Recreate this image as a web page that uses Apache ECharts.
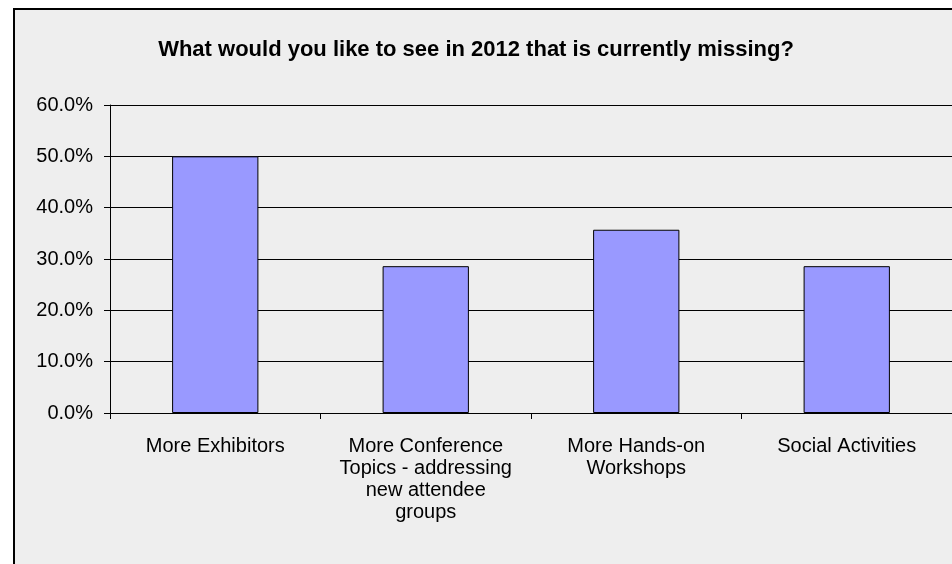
<!DOCTYPE html>
<html><head><meta charset="utf-8">
<script src="https://cdn.jsdelivr.net/npm/echarts@6/dist/echarts.min.js"></script>
<style>html,body{margin:0;padding:0;background:#fff}#c{width:952px;height:564px}</style>
</head><body><div id="c"></div>
<script>
const titleText = "What would you like to see in 2012 that is currently missing?";
const categories = ["More Exhibitors", "More Conference\nTopics - addressing\nnew attendee\ngroups", "More Hands-on\nWorkshops", "Social Activities"];
const values = [0.500, 0.286, 0.357, 0.286];
const yTicks = { min: 0, max: 0.6, interval: 0.1 };

const chart = echarts.init(document.getElementById('c'), null, {renderer: 'canvas'});
const font = '"Liberation Sans", Arial, sans-serif';
chart.setOption({
  backgroundColor: '#ffffff',
  animation: false,
  graphic: [{
    type: 'rect', z: -10, silent: true,
    shape: { x: 14, y: 9, width: 960, height: 580 },
    style: { fill: '#eeeeee', stroke: '#000000', lineWidth: 2 }
  }],
  title: {
    text: titleText, left: 'center', top: 34,
    textStyle: { fontFamily: font, fontSize: 22, fontWeight: 'bold', color: '#000' }
  },
  grid: { left: 110, top: 105, width: 844, height: 308, containLabel: false },
  xAxis: {
    type: 'category', data: categories,
    axisLine: { lineStyle: { color: '#000', width: 1 } },
    axisTick: { show: true, length: 6, lineStyle: { color: '#000' } },
    axisLabel: { interval: 0, color: '#000', fontFamily: font, fontSize: 20, lineHeight: 22, margin: 22 },
    splitLine: { show: false }
  },
  yAxis: {
    type: 'value', min: yTicks.min, max: yTicks.max, interval: yTicks.interval,
    axisLine: { show: true, lineStyle: { color: '#000', width: 1 } },
    axisTick: { show: true, length: 6, lineStyle: { color: '#000' } },
    axisLabel: { color: '#000', fontFamily: font, fontSize: 20, margin: 17,
      formatter: v => (v * 100).toFixed(1) + '%' },
    splitLine: { show: true, lineStyle: { color: '#000', width: 1 } }
  },
  series: [{
    type: 'bar', data: values, barWidth: '41%',
    itemStyle: { color: '#9999ff', borderColor: '#000', borderWidth: 1 }
  }]
});
</script></body></html>
